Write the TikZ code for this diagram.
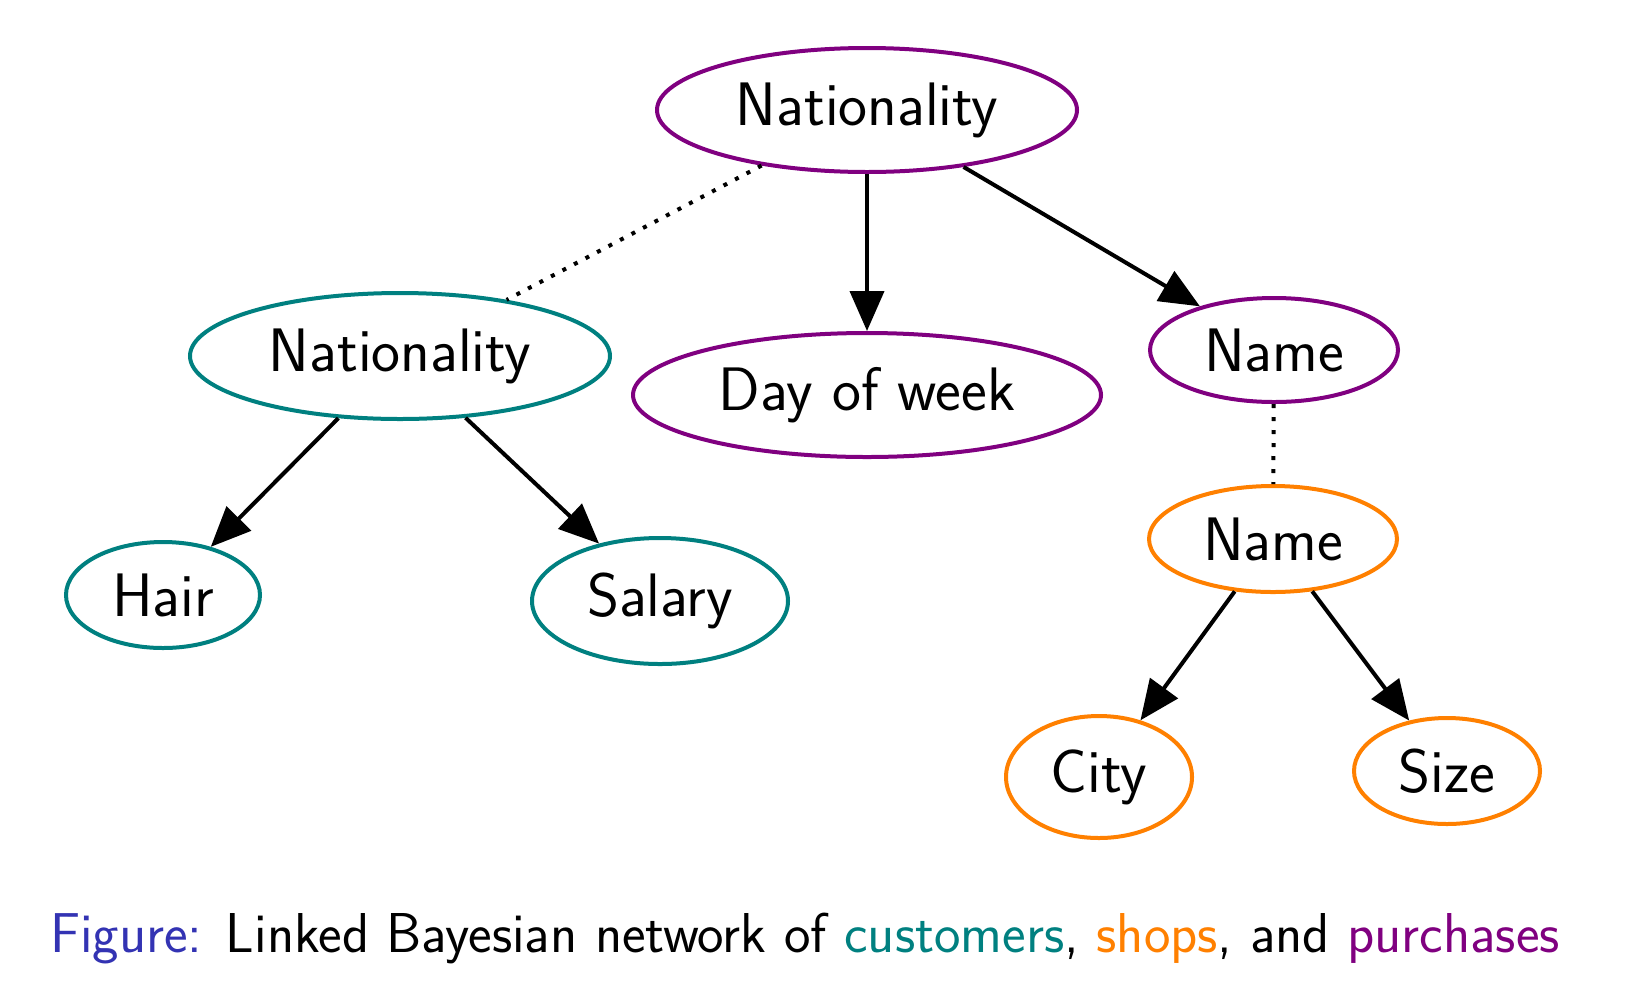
\documentclass[tikz,border=0pt]{standalone}
\usepackage{fontspec}
\usetikzlibrary{shapes.geometric,arrows.meta}
\definecolor{cpurple}{RGB}{128,0,128}
\definecolor{cteal}{RGB}{0,128,128}
\definecolor{corange}{RGB}{255,128,0}
\definecolor{figblue}{RGB}{51,51,179}
\tikzset{
  bn/.style={ellipse, draw=#1, line width=2pt, inner sep=0pt,
    font=\sffamily\fontsize{30.7}{36}\selectfont, text=black},
  arr/.style={line width=2pt, -{Triangle[length=20pt,width=17pt]}},
  link/.style={line width=2pt, dash pattern=on 2pt off 4.5pt}
}
\begin{document}
\begin{tikzpicture}[x=0.5pt,y=-0.5pt]
\useasboundingbox[fill=white] (0,0) rectangle (1626,1002);
\node[bn=cpurple, minimum width=210pt, minimum height=62pt] (nat) at (867,110) {Nationality};
\node[bn=cteal, minimum width=210pt, minimum height=63pt] (cnat) at (400,356) {Nationality};
\node[bn=cpurple, minimum width=234pt, minimum height=62pt] (day) at (867,395) {Day of week};
\node[bn=cpurple, minimum width=124pt, minimum height=52pt] (pname) at (1274,350) {Name};
\node[bn=corange, minimum width=124pt, minimum height=53pt] (sname) at (1273,539) {Name};
\node[bn=cteal, minimum width=97pt, minimum height=53pt] (hair) at (163,595) {Hair};
\node[bn=cteal, minimum width=128pt, minimum height=63pt] (salary) at (660,601) {Salary};
\node[bn=corange, minimum width=93pt, minimum height=61pt] (city) at (1099,777) {City};
\node[bn=corange, minimum width=93pt, minimum height=53pt] (size) at (1447,771) {Size};

\draw[link] (nat) -- (cnat);
\draw[arr] (nat) -- (day);
\draw[arr] (nat) -- (pname);
\draw[arr] (cnat) -- (hair);
\draw[arr] (cnat) -- (salary);
\draw[link] (pname) -- (sname);
\draw[arr] (sname) -- (city);
\draw[arr] (sname) -- (size);

\node[anchor=base, inner sep=0pt, font=\sffamily\fontsize{28.1}{33}\selectfont] (cap) at (805,952)
  {{\color{figblue}Figure:} Linked Bayesian network of {\color{cteal}customers}, {\color{corange}shops}, and {\color{cpurple}purchases}};
\end{tikzpicture}
\end{document}
